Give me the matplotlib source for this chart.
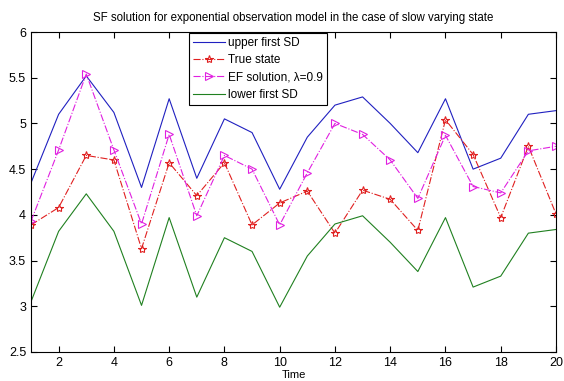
import numpy as np
import matplotlib.pyplot as plt

t = np.arange(1, 21)
upper = [4.35, 5.1, 5.52, 5.12, 4.3, 5.27, 4.4, 5.05, 4.9, 4.28,
         4.85, 5.2, 5.29, 5.0, 4.68, 5.27, 4.5, 4.62, 5.1, 5.14]
true_state = [3.89, 4.08, 4.65, 4.6, 3.63, 4.57, 4.21, 4.57, 3.89, 4.13,
              4.26, 3.8, 4.27, 4.17, 3.83, 5.04, 4.66, 3.97, 4.75, 4.01]
ef = [3.93, 4.71, 5.54, 4.71, 3.9, 4.88, 3.99, 4.65, 4.5, 3.89,
      4.46, 5.0, 4.88, 4.6, 4.18, 4.87, 4.31, 4.24, 4.7, 4.75]
lower = [3.05, 3.82, 4.23, 3.82, 3.01, 3.97, 3.1, 3.75, 3.6, 2.99,
         3.55, 3.9, 3.99, 3.7, 3.38, 3.97, 3.21, 3.33, 3.8, 3.84]

plt.rcParams['font.family'] = ['Liberation Sans', 'DejaVu Sans']
fig = plt.figure(figsize=(5.64, 3.81), dpi=100)
ax = fig.add_axes([31/564, 1 - 352/381, 525/564, 320/381])

ax.plot(t, upper, color='#2020c0', lw=0.8, label='upper first SD')
ax.plot(t, true_state, color='#e02020', lw=0.8, ls='-.', marker='*',
        ms=6, mfc='none', mew=0.8, label='True state')
ax.plot(t, ef, color='#e020e0', lw=0.8, ls='-.', marker='>',
        ms=6, mfc='none', mew=0.8, label='EF solution, λ=0.9')
ax.plot(t, lower, color='#208020', lw=0.8, label='lower first SD')

ax.set_xlim(1, 20)
ax.set_ylim(2.5, 6)
ax.set_xticks(range(2, 21, 2))
ax.set_yticks(np.arange(2.5, 6.01, 0.5))
ax.set_yticklabels(['2.5', '3', '3.5', '4', '4.5', '5', '5.5', '6'])
ax.tick_params(direction='in', top=True, right=True, labelsize=9, length=4)
ax.set_title('SF solution for exponential observation model in the case of slow varying state',
             fontsize=8.3, pad=8)
ax.set_xlabel('Time', fontsize=8, labelpad=1)
leg = ax.legend(loc='upper left', bbox_to_anchor=(0.3, 0.998), fontsize=8.5,
                fancybox=False, framealpha=1, edgecolor='black',
                borderpad=0.35, labelspacing=0.45, handlelength=2.7,
                handletextpad=0.3, borderaxespad=0)
leg.get_frame().set_linewidth(0.8)

plt.savefig('out.png')
